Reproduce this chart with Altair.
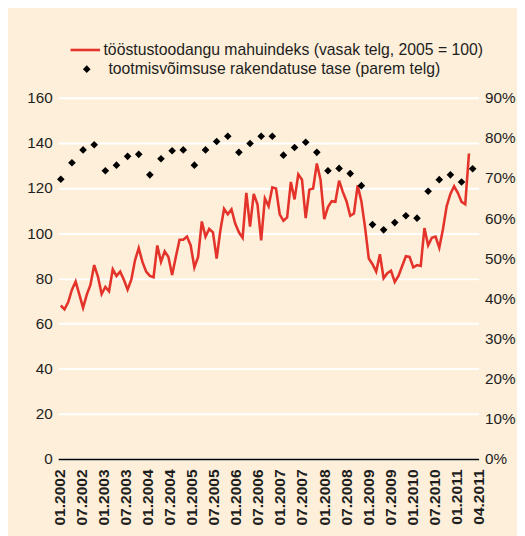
import json
import altair as alt
import pandas as pd

# ---- data ----
tick_labels = ["01.2002", "07.2002", "01.2003", "07.2003", "01.2004", "07.2004",
               "01.2005", "07.2005", "01.2006", "07.2006", "01.2007", "07.2007",
               "01.2008", "07.2008", "01.2009", "07.2009", "01.2010", "07.2010",
               "01.2011", "04.2011"]

# monthly industrial production volume index (left axis), 01.2002 ...
industry = [68.0, 66.3, 69.5, 75.0, 78.6, 72.8, 67.0, 72.8, 77.2, 85.9, 80.8, 73.1,
            76.2, 74.3, 84.0, 81.1, 83.0, 79.4, 75.0, 79.4, 88.0, 93.4, 87.3, 83.0,
            81.1, 80.5, 94.6, 87.3, 92.0, 89.5, 81.5, 89.5, 97.1, 97.1, 98.5, 94.6,
            84.9, 89.5, 105.2, 98.5, 101.9, 100.4, 88.8, 101.2, 110.8, 108.4, 110.6, 104.3,
            100.4, 98.0, 117.9, 102.9, 117.4, 112.8, 96.8, 115.4, 112.0, 120.3, 119.8, 108.4,
            105.5, 107.0, 122.7, 115.0, 126.1, 123.7, 106.7, 119.3, 119.8, 130.9, 123.7, 106.3,
            111.6, 114.2, 113.9, 123.3, 118.3, 114.2, 107.7, 108.7, 121.2, 114.2, 102.6, 88.8,
            86.3, 83.0, 90.7, 80.1, 82.3, 83.4, 78.4, 81.1, 85.5, 89.8, 89.5, 84.9,
            85.9, 85.5, 102.3, 94.6, 98.0, 98.5, 93.6, 101.9, 112.0, 117.4, 120.8, 117.9,
            113.9, 112.8, 135.3]

# quarterly capacity utilisation, % (right axis), 2002 Q1 ...
capacity = [69.7, 73.8, 77.0, 78.3, 71.8, 73.2, 75.4, 75.9, 70.8, 74.8, 76.8, 77.0,
            73.2, 77.0, 79.1, 80.4, 76.4, 78.6, 80.4, 80.4, 75.7, 77.6, 78.9, 76.4,
            71.8, 72.4, 71.1, 68.1, 58.4, 57.1, 58.9, 60.6, 60.0, 66.7, 69.6, 70.8,
            69.0, 72.3]

LEG1 = "tööstustoodangu mahuindeks (vasak telg, 2005 = 100)"
LEG2 = "tootmisvõimsuse rakendatuse tase (parem telg)"

df_ind = pd.DataFrame({"m": list(range(len(industry))), "v": industry, "s": LEG1})
df_cap = pd.DataFrame({"m": [3 * i for i in range(len(capacity))], "v": capacity, "s": LEG2})

# ---- styling ----
FONT = "Liberation Sans"
RED = "#E4332B"
BG = "#FDEFD9"
TXT = "#1E1E1E"

X0, X1 = -0.7, 112.6
T0, TSTEP = -0.25, 5.934
tick_vals = [round(T0 + TSTEP * i, 3) for i in range(len(tick_labels))]
label_expr = json.dumps(tick_labels) + f"[round((datum.value - ({T0})) / {TSTEP})]"

x_enc = alt.X("m:Q",
              scale=alt.Scale(domain=[X0, X1], nice=False, zero=False),
              axis=alt.Axis(values=tick_vals, labelExpr=label_expr, title=None,
                            grid=False, ticks=False, domain=True, domainColor="black",
                            domainWidth=1.5, labelAngle=270, labelFontWeight="bold",
                            labelFontSize=15.8, labelColor=TXT, labelPadding=10,
                            labelFont=FONT, labelOverlap=False, labelBound=False,
                            labelFlush=False))

line = alt.Chart(df_ind).mark_line(strokeWidth=2.6, color=RED).encode(
    x=x_enc,
    y=alt.Y("v:Q",
            scale=alt.Scale(domain=[0, 160], nice=False, zero=True),
            axis=alt.Axis(values=list(range(0, 161, 20)), orient="left", title=None,
                          grid=True, gridColor="white", gridWidth=2, domain=False,
                          ticks=False, labelPadding=6, labelFontSize=15.5,
                          labelColor=TXT, labelFont=FONT)),
    stroke=alt.Stroke("s:N",
                      scale=alt.Scale(domain=[LEG1], range=[RED]),
                      legend=alt.Legend(orient="none", legendX=11, legendY=-65,
                                        title=None, symbolType="stroke", symbolSize=900,
                                        symbolStrokeWidth=2.6, labelFontSize=16,
                                        labelFont=FONT, labelColor=TXT, labelLimit=700,
                                        padding=0, labelOffset=2)),
)

points = alt.Chart(df_cap).mark_point(shape="diamond", filled=True, size=60,
                                      opacity=1, strokeWidth=0).encode(
    x=x_enc,
    y=alt.Y("v:Q",
            scale=alt.Scale(domain=[0, 90], nice=False, zero=True),
            axis=alt.Axis(values=list(range(0, 91, 10)), orient="right", title=None,
                          grid=False, domain=False, ticks=False, labelPadding=6,
                          labelFontSize=15.5, labelColor=TXT, labelFont=FONT,
                          labelExpr="datum.value + '%'")),
    fill=alt.Fill("s:N",
                  scale=alt.Scale(domain=[LEG2], range=["black"]),
                  legend=alt.Legend(orient="none", legendX=21, legendY=-37,
                                    title=None, symbolType="diamond", symbolSize=60,
                                    symbolStrokeWidth=0, labelFontSize=16,
                                    labelFont=FONT, labelColor=TXT, labelLimit=700,
                                    padding=0, labelOffset=14)),
)

chart = alt.layer(line, points).resolve_scale(
    y="independent", stroke="independent", fill="independent"
).properties(
    width=427, height=367,
    autosize=alt.AutoSizeParams(type="none"),
    padding={"left": 51, "top": 87, "right": 39, "bottom": 74},
).configure(
    background=BG, font=FONT
).configure_view(stroke=None)

chart.save("out.html", embed_options={"renderer": "svg", "actions": False})
